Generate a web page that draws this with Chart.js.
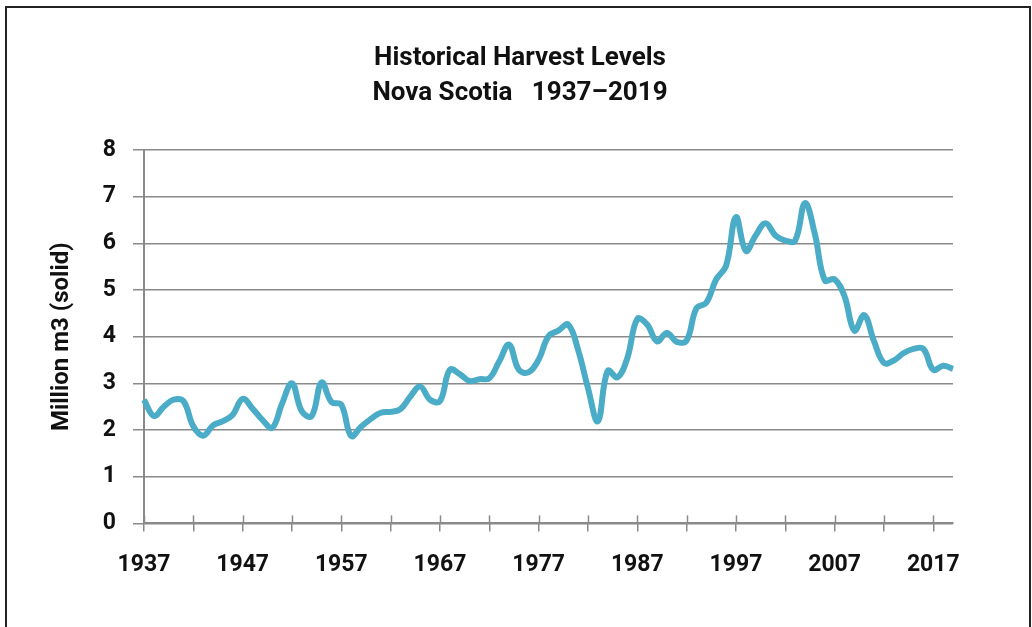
<!DOCTYPE html>
<html>
<head>
<meta charset="utf-8">
<title>Historical Harvest Levels</title>
<script src="https://cdn.jsdelivr.net/npm/chart.js"></script>
<style>
body{margin:0;background:#fff;overflow:hidden}
#wrap{position:relative;width:1032px;height:627px}
#frame{position:absolute;left:5px;top:6px;width:1026px;height:700px;border:2px solid #222;box-sizing:border-box;pointer-events:none}
canvas{position:absolute;left:0;top:0}
</style>
</head>
<body>
<div id="wrap">
<canvas id="chart" width="1032" height="627"></canvas>
<div id="frame"></div>
</div>

<script>
// ===== DATA =====
const years=[1937,1938,1939,1940,1941,1942,1943,1944,1945,1946,
1947,1948,1949,1950,1951,1952,1953,1954,1955,1956,
1957,1958,1959,1960,1961,1962,1963,1964,1965,1966,
1967,1968,1969,1970,1971,1972,1973,1974,1975,1976,
1977,1978,1979,1980,1981,1982,1983,1984,1985,1986,
1987,1988,1989,1990,1991,1992,1993,1994,1995,1996,
1997,1998,1999,2000,2001,2002,2003,2004,2005,2006,
2007,2008,2009,2010,2011,2012,2013,2014,2015,2016,
2017,2018,2019]

// million m3 (solid)
const harvest=[2.65,2.30,2.50,2.65,2.62,2.08,1.88,2.10,2.19,2.33,
2.67,2.46,2.22,2.05,2.57,3.00,2.40,2.30,3.02,2.60,
2.54,1.87,2.07,2.24,2.37,2.39,2.45,2.72,2.93,2.65,
2.62,3.29,3.20,3.05,3.09,3.11,3.47,3.83,3.29,3.24,
3.51,4.01,4.13,4.26,3.72,2.90,2.19,3.27,3.13,3.55,
4.38,4.26,3.90,4.08,3.89,3.92,4.61,4.73,5.23,5.52,
6.56,5.84,6.17,6.43,6.17,6.06,6.06,6.86,6.20,5.21,
5.23,4.87,4.13,4.46,3.90,3.44,3.49,3.65,3.74,3.74,
3.29,3.38,3.31]

const labelYears=[1937,1947,1957,1967,1977,1987,1997,2007,2017]
const tickYears=[1937,1942,1947,1952,1957,1962,1967,1972,1977,1982,1987,1992,1997,2002,2007,2012,2017]
const titleLines=['Historical Harvest Levels','Nova Scotia   1937\u20132019']
const yTitle='Million m3 (solid)'

const GRID='#8a8a8a'
const FONT='Roboto'

// tick marks on the x axis reach above the axis too
const crossTicks={
  id:'crossTicks',
  afterDraw(chart){
    const x=chart.scales.x, ctx=chart.ctx, b=chart.chartArea.bottom
    ctx.save()
    ctx.strokeStyle=GRID
    ctx.lineWidth=1.5
    tickYears.forEach(y=>{
      const px=Math.round(x.getPixelForValue(years.indexOf(y)))+0.5
      ctx.beginPath()
      ctx.moveTo(px,b-8)
      ctx.lineTo(px,b)
      ctx.stroke()
    })
    ctx.restore()
  }
}

// title is centred on the whole frame, not on the plot
const pageTitle={
  id:'pageTitle',
  afterDraw(chart){
    const ctx=chart.ctx
    ctx.save()
    ctx.fillStyle='#111'
    ctx.font='bold 26px '+FONT
    ctx.textAlign='center'
    ctx.textBaseline='middle'
    titleLines.forEach((t,i)=>ctx.fillText(t,chart.width/2+4,58+i*35))
    ctx.restore()
  }
}

new Chart(document.getElementById('chart'),{
  type:'line',
  data:{
    labels:years,
    datasets:[{
      data:harvest,
      borderColor:'#4aacc6',
      borderWidth:6,
      pointRadius:0,
      tension:0.4,
      fill:false
    }]
  },
  options:{
    responsive:false,
    animation:false,
    devicePixelRatio:1,
    layout:{padding:{left:27,right:79,top:150,bottom:28}},
    plugins:{
      legend:{display:false},
      tooltip:{enabled:false},
      title:{display:false}
    },
    scales:{
      x:{
        offset:false,
        grid:{
          drawOnChartArea:false,
          tickLength:8,
          lineWidth:1.5,
          color:c=>tickYears.includes(years[c.index])?GRID:'rgba(0,0,0,0)'
        },
        border:{color:GRID,width:2},
        ticks:{
          autoSkip:false,
          maxRotation:0,
          minRotation:0,
          padding:20,
          color:'#111',
          font:{family:FONT,size:23,weight:'bold'},
          callback:(v,i)=>labelYears.includes(years[i])?String(years[i]):''
        }
      },
      y:{
        min:0,
        max:8,
        ticks:{
          stepSize:1,
          padding:17,
          color:'#111',
          font:{family:FONT,size:23,weight:'bold'}
        },
        grid:{color:GRID,lineWidth:1.5,tickLength:11},
        border:{color:GRID,width:2},
        title:{
          display:true,
          text:yTitle,
          color:'#111',
          font:{family:FONT,size:24,weight:'bold'},
          padding:{top:21,bottom:9}
        }
      }
    }
  },
  plugins:[crossTicks,pageTitle]
})
</script>
</body>
</html>
